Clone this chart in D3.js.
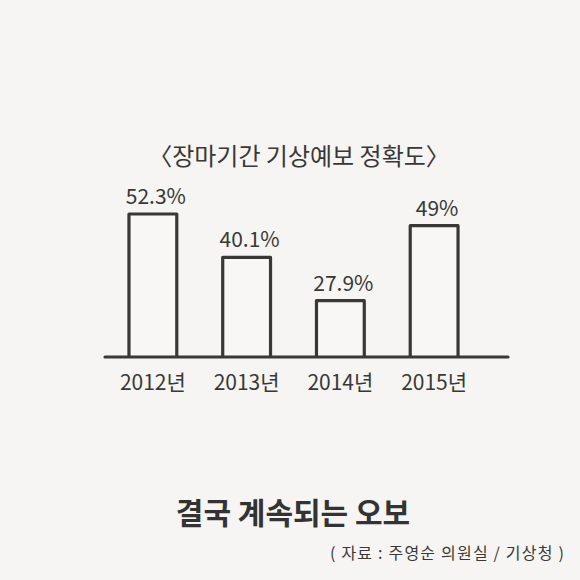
<!DOCTYPE html>
<html>
<head>
<meta charset="utf-8">
<script src="https://cdn.jsdelivr.net/npm/d3@7"></script>
<style>
  html, body { margin: 0; padding: 0; background: #f6f5f3; }
  svg { display: block; }
</style>
</head>
<body>
<svg width="580" height="580"></svg>
<script>
// data
const years = ['2012년', '2013년', '2014년', '2015년']
const values = [52.3, 40.1, 27.9, 49]
const valueLabels = ['52.3%', '40.1%', '27.9%', '49%']

const chartTitle = '〈장마기간 기상예보 정확도〉'
const headline = '결국 계속되는 오보'
const source = '( 자료 : 주영순 의원실 / 기상청 )'

const ink = '#383838'
const handFont = '"Noto Sans CJK KR", "Noto Sans", sans-serif'

const svg = d3.select('svg')
const width = 580

svg.append('rect')
  .attr('width', 580).attr('height', 580)
  .attr('fill', '#f6f5f3')

// the drawing does not start at zero, so the scale floor sits near 12
const baseline = 357
const x = d3.scaleBand()
  .domain(years)
  .range([106, 481])
  .paddingInner(0.49)
  .paddingOuter(0.245)

const y = d3.scaleLinear()
  .domain([12, 52.3])
  .range([baseline, 214])

// title
svg.append('text')
  .attr('x', width / 2 + 9)
  .attr('y', 165)
  .attr('text-anchor', 'middle')
  .attr('font-family', handFont)
  .attr('font-weight', 400)
  .attr('font-size', 24)
  .attr('fill', ink)
  .text(chartTitle)

// bars
const data = years.map((yr, i) => ({ year: yr, value: values[i], label: valueLabels[i] }))

svg.append('g').selectAll('path')
  .data(data)
  .enter().append('path')
  .attr('d', d => {
    const x0 = x(d.year), x1 = x0 + x.bandwidth(), top = y(d.value)
    return `M${x0},${baseline} L${x0},${top} L${x1},${top} L${x1},${baseline}`
  })
  .attr('fill', '#f8f7f5')
  .attr('stroke', ink)
  .attr('stroke-width', 3.2)
  .attr('stroke-linejoin', 'round')

// value labels
svg.append('g').selectAll('text')
  .data(data)
  .enter().append('text')
  .attr('x', d => x(d.year) + x.bandwidth() / 2 + 3)
  .attr('y', d => y(d.value) - 10)
  .attr('text-anchor', 'middle')
  .attr('font-family', handFont)
  .attr('font-weight', 400)
  .attr('font-size', 21)
  .attr('fill', ink)
  .text(d => d.label)

// baseline
svg.append('line')
  .attr('x1', 105).attr('x2', 508)
  .attr('y1', baseline).attr('y2', baseline)
  .attr('stroke', ink)
  .attr('stroke-width', 3.2)
  .attr('stroke-linecap', 'round')

// year labels
const xAxis = d3.axisBottom(x).tickSize(0).tickPadding(0)
const axisG = svg.append('g')
  .attr('transform', `translate(0,${baseline})`)
  .call(xAxis)
axisG.select('.domain').remove()
axisG.selectAll('text')
  .attr('dy', 0)
  .attr('y', 33)
  .attr('font-family', handFont)
  .attr('font-weight', 400)
  .attr('font-size', 21)
  .attr('fill', ink)

// headline and source
svg.append('text')
  .attr('x', width / 2 + 3)
  .attr('y', 524)
  .attr('text-anchor', 'middle')
  .attr('font-family', '"Noto Sans CJK KR", sans-serif')
  .attr('font-weight', 700)
  .attr('font-size', 30)
  .attr('fill', '#333')
  .text(headline)

svg.append('text')
  .attr('x', 565)
  .attr('y', 559)
  .attr('text-anchor', 'end')
  .attr('font-family', handFont)
  .attr('font-weight', 400)
  .attr('font-size', 16)
  .attr('letter-spacing', 1.2)
  .attr('fill', ink)
  .text(source)
</script>
</body>
</html>
